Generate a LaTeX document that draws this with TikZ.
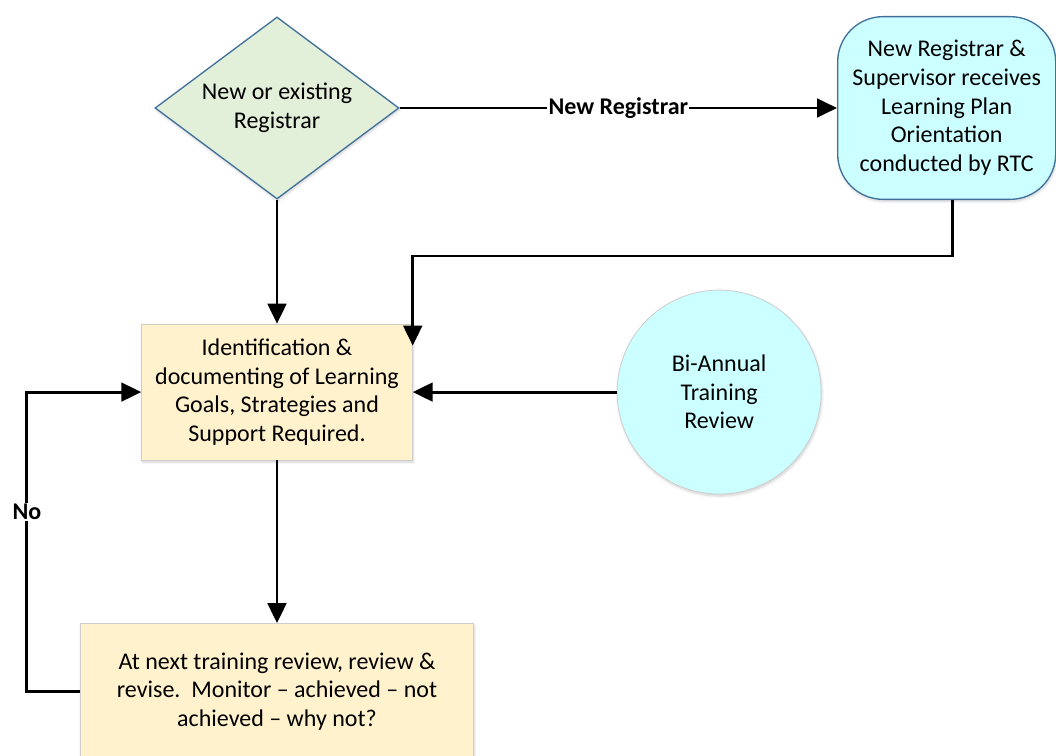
\documentclass[tikz,border=0pt]{standalone}
\usepackage{fontspec}
\setmainfont{Carlito}
\usetikzlibrary{positioning, arrows.meta, shapes.geometric, shadows.blur, calc}
\definecolor{planblue}{RGB}{65,113,156}
\definecolor{palegreen}{RGB}{226,239,217}
\definecolor{palecyan}{RGB}{204,255,255}
\definecolor{palesand}{RGB}{255,242,204}
\definecolor{edgegrey}{RGB}{205,205,205}

\begin{document}
\begin{tikzpicture}[
  x=0.75pt, y=-0.75pt,
  font=\fontsize{18}{21.5}\selectfont,
  soft/.style={blur shadow={shadow xshift=0.6pt, shadow yshift=-1.5pt,
                            shadow opacity=18, shadow blur steps=6}},
  decide/.style={
    diamond, aspect=1.34, draw=planblue, line width=1pt, fill=palegreen, soft,
    minimum width=183pt, minimum height=136.5pt, inner sep=0pt, align=center
  },
  intro/.style={
    rectangle, rounded corners=34pt, draw=planblue, line width=1pt,
    fill=palecyan, soft, minimum width=163.5pt, minimum height=137pt,
    inner sep=0pt, align=center
  },
  task/.style={
    rectangle, draw=edgegrey, line width=0.6pt, fill=palesand, soft,
    minimum height=102pt, inner sep=0pt, align=center
  },
  event/.style={
    circle, draw=edgegrey, line width=0.6pt, fill=palecyan, soft,
    minimum size=153pt, inner sep=0pt, align=center
  },
  arrow/.style={-{Triangle[length=15pt, width=14pt]}, line width=2.2pt, black},
  tag/.style={fill=white, inner sep=1pt, font=\fontsize{18}{21.5}\selectfont\bfseries}
]
  \useasboundingbox (0,0) rectangle (1056,756);

  \node[decide] (dec) at (277,108) {New or existing\\Registrar};
  \node[intro, right=328pt of dec] (orient)
    {New Registrar \&\\Supervisor receives\\Learning Plan\\Orientation\\conducted by RTC};
  \node[task, minimum width=203pt, below=93pt of dec] (ident)
    {Identification \&\\documenting of Learning\\Goals, Strategies and\\Support Required.};
  \node[event, right=153pt of ident] (biannual) {Bi-Annual\\Training\\Review};
  \node[task, minimum width=295pt, below=122pt of ident] (revise)
    {At next training review, review \&\\revise.\ \ Monitor -- achieved -- not\\achieved -- why not?};

  \coordinate (identin) at ($(ident.north east)+(0,22)$);

  \draw[arrow] (dec) -- node[tag] {New Registrar} (orient);
  \draw[arrow] (dec) -- (ident);
  \draw[arrow] ([xshift=4.5pt]orient.south) -- ++(0,56) -| (identin);
  \draw[arrow] (biannual) -- (ident);
  \draw[arrow] (ident) -- (revise);
  \draw[arrow] (revise.west) -- ++(-53,0) |- node[tag, pos=0.3] {No} (ident.west);
\end{tikzpicture}
\end{document}
